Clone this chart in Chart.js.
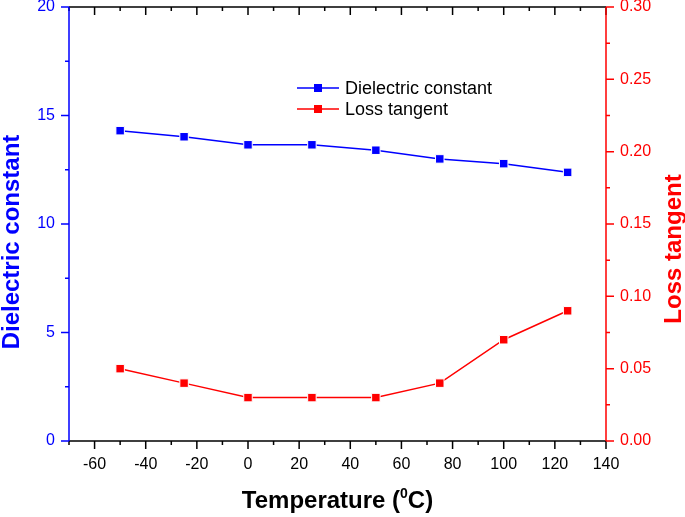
<!DOCTYPE html>
<html>
<head>
<meta charset="utf-8">
<script src="https://cdn.jsdelivr.net/npm/chart.js@4/dist/chart.umd.min.js"></script>
<style>
  body { margin: 0; background: #fff; }
</style>
</head>
<body>
<canvas id="myChart" width="685" height="517"></canvas>
<script>
// valori
const temperature = [-50, -25, 0, 25, 50, 75, 100, 125];
const dielectric = [14.3, 14.02, 13.65, 13.65, 13.4, 13.0, 12.78, 12.38];
const lossTangent = [0.05, 0.04, 0.03, 0.03, 0.03, 0.04, 0.07, 0.09];
const xTicks = [-60, -40, -20, 0, 20, 40, 60, 80, 100, 120, 140];
const leftTicks = [0, 5, 10, 15, 20];
const rightTicks = [0, 0.05, 0.10, 0.15, 0.20, 0.25, 0.30];

const BLUE = '#0000ff';
const RED = '#ff0000';
const FONT = "Arial, 'Liberation Sans', sans-serif";

function toPoints(ys) {
    return temperature.map((t, i) => ({ x: t, y: ys[i] }));
}

// assi, tacche secondarie, titoli e legenda
const framePlugin = {
    id: 'frame',
    afterDraw(chart) {
        const ctx = chart.ctx;
        const a = chart.chartArea;
        const sx = chart.scales.x, sl = chart.scales.y, sr = chart.scales.y1;
        ctx.save();
        ctx.lineWidth = 1.5;

        // asse x in basso e in alto
        ctx.strokeStyle = '#000';
        ctx.beginPath();
        ctx.moveTo(a.left, a.bottom); ctx.lineTo(a.right, a.bottom);
        ctx.moveTo(a.left, a.top); ctx.lineTo(a.right, a.top);
        for (let v = -70; v <= 140; v += 10) {
            const px = sx.getPixelForValue(v);
            const len = v % 20 === 0 ? 8 : 4;
            ctx.moveTo(px, a.bottom); ctx.lineTo(px, a.bottom + len);
            ctx.moveTo(px, a.top); ctx.lineTo(px, a.top + len);
        }
        ctx.stroke();

        // asse sinistro
        ctx.strokeStyle = BLUE;
        ctx.beginPath();
        ctx.moveTo(a.left, a.top); ctx.lineTo(a.left, a.bottom);
        for (let v = 0; v <= 20; v += 2.5) {
            const py = sl.getPixelForValue(v);
            const len = v % 5 === 0 ? 8 : 4;
            ctx.moveTo(a.left, py); ctx.lineTo(a.left - len, py);
        }
        ctx.stroke();

        // asse destro
        ctx.strokeStyle = RED;
        ctx.beginPath();
        ctx.moveTo(a.right, a.top); ctx.lineTo(a.right, a.bottom);
        for (let k = 0; k <= 12; k++) {
            const py = sr.getPixelForValue(k * 0.025);
            const len = k % 2 === 0 ? 8 : 4;
            ctx.moveTo(a.right, py); ctx.lineTo(a.right + len, py);
        }
        ctx.stroke();

        // titoli degli assi
        ctx.font = 'bold 24px ' + FONT;
        ctx.textAlign = 'center';
        ctx.textBaseline = 'middle';
        ctx.fillStyle = BLUE;
        ctx.save();
        ctx.translate(12, 242);
        ctx.rotate(-Math.PI / 2);
        ctx.fillText('Dielectric constant', 0, 0);
        ctx.restore();

        ctx.fillStyle = RED;
        ctx.save();
        ctx.translate(674, 249);
        ctx.rotate(-Math.PI / 2);
        ctx.fillText('Loss tangent', 0, 0);
        ctx.restore();

        // titolo x con apice
        ctx.fillStyle = '#000';
        ctx.textAlign = 'left';
        ctx.textBaseline = 'alphabetic';
        const p1 = 'Temperature (', sup = '0', p2 = 'C)';
        ctx.font = 'bold 24px ' + FONT;
        const w1 = ctx.measureText(p1).width, w3 = ctx.measureText(p2).width;
        ctx.font = 'bold 14px ' + FONT;
        const w2 = ctx.measureText(sup).width;
        let tx = (a.left + a.right) / 2 - (w1 + w2 + w3) / 2;
        const base = 508;
        ctx.font = 'bold 24px ' + FONT;
        ctx.fillText(p1, tx, base);
        tx += w1;
        ctx.font = 'bold 14px ' + FONT;
        ctx.fillText(sup, tx, base - 10);
        tx += w2;
        ctx.font = 'bold 24px ' + FONT;
        ctx.fillText(p2, tx, base);

        // legenda
        const items = [['Dielectric constant', BLUE, 88], ['Loss tangent', RED, 109]];
        ctx.font = '18px ' + FONT;
        ctx.textBaseline = 'middle';
        items.forEach(([label, col, y]) => {
            ctx.strokeStyle = col;
            ctx.lineWidth = 1.5;
            ctx.beginPath();
            ctx.moveTo(297, y); ctx.lineTo(339, y);
            ctx.stroke();
            ctx.fillStyle = col;
            ctx.fillRect(314, y - 4, 8, 8);
            ctx.fillStyle = '#000';
            ctx.fillText(label, 345, y + 1);
        });
        ctx.restore();
    }
};

function fixTicks(list) {
    return function (scale) {
        scale.ticks = list.map(v => ({ value: v }));
    };
}

const ctxChart = document.getElementById('myChart').getContext('2d');
const myChart = new Chart(ctxChart, {
    type: 'line',
    data: {
        datasets: [{
            label: 'Dielectric constant',
            data: toPoints(dielectric),
            yAxisID: 'y',
            borderColor: BLUE,
            backgroundColor: BLUE,
            borderWidth: 1.5,
            pointStyle: 'rect',
            pointRadius: 6,
            pointBorderColor: '#fff',
            pointBorderWidth: 1,
            fill: false
        }, {
            label: 'Loss tangent',
            data: toPoints(lossTangent),
            yAxisID: 'y1',
            borderColor: RED,
            backgroundColor: RED,
            borderWidth: 1.5,
            pointStyle: 'rect',
            pointRadius: 6,
            pointBorderColor: '#fff',
            pointBorderWidth: 1,
            fill: false
        }]
    },
    options: {
        responsive: false,
        animation: false,
        layout: { padding: { top: 7, left: 0, right: 0, bottom: 0 } },
        plugins: { legend: { display: false }, tooltip: { enabled: false } },
        scales: {
            x: {
                type: 'linear',
                min: -70,
                max: 140,
                afterBuildTicks: fixTicks(xTicks),
                afterFit: function (s) { s.height = 76; s.paddingLeft = 0; s.paddingRight = 0; },
                grid: { display: false, drawTicks: false },
                border: { display: false },
                ticks: { color: '#000', font: { size: 16, family: FONT }, padding: 14, maxRotation: 0, autoSkip: false }
            },
            y: {
                position: 'left',
                min: 0,
                max: 20,
                afterBuildTicks: fixTicks(leftTicks),
                afterFit: function (s) { s.width = 69; s.paddingTop = 0; s.paddingBottom = 0; },
                grid: { display: false, drawTicks: false },
                border: { display: false },
                ticks: { color: BLUE, font: { size: 16, family: FONT }, padding: 14 }
            },
            y1: {
                position: 'right',
                min: 0,
                max: 0.30,
                afterBuildTicks: fixTicks(rightTicks),
                afterFit: function (s) { s.width = 79; s.paddingTop = 0; s.paddingBottom = 0; },
                grid: { display: false, drawTicks: false },
                border: { display: false },
                ticks: {
                    color: RED, font: { size: 16, family: FONT }, padding: 14,
                    callback: function (v) { return v.toFixed(2); }
                }
            }
        }
    },
    plugins: [framePlugin]
});
</script>
</body>
</html>
